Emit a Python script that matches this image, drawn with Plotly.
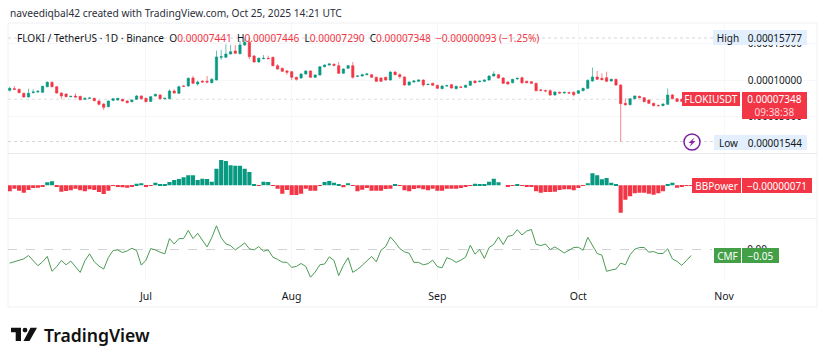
import pandas as pd
import plotly.graph_objects as go

W, H = 825, 361
START_DATE = "2025-06-02"
PRICE_UNIT = 1e-5
BB_UNIT = 1e-6

opens = [8.58,8.81,8.72,8.17,7.66,8.26,8.35,8.30,9.08,9.68,9.08,8.21,8.07,7.71,7.80,7.75,7.34,7.48,7.48,7.11,6.70,6.33,7.20,7.25,7.34,7.11,7.02,7.34,7.80,7.48,
7.06,7.80,7.94,7.43,7.43,8.49,8.17,9.17,9.17,10.28,9.45,9.82,9.82,9.63,10.00,13.12,13.12,13.58,13.99,13.62,14.82,15.18,13.30,12.48,12.94,12.98,13.12,11.97,11.61,11.24,
11.15,10.37,10.28,10.83,11.24,10.37,10.69,11.83,12.06,12.16,11.97,10.92,11.61,11.97,10.50,10.55,10.73,10.73,10.37,10.28,10.37,10.00,11.10,10.73,10.41,9.31,9.72,9.82,10.00,9.36,
9.54,9.27,8.81,9.17,9.36,8.81,9.04,8.99,9.27,9.86,9.77,9.82,10.00,10.55,10.73,10.28,9.72,9.63,10.14,10.32,9.82,9.77,9.54,8.62,8.53,8.53,7.94,8.30,8.21,8.26,
8.30,8.17,8.53,8.85,9.86,10.41,10.23,10.32,9.86,10.09,9.31,6.79,6.61,7.43,7.75,7.57,7.25,6.79,6.51,6.47,6.65,7.94,7.43,7.34,7.12,7.441]
closes = [8.85,8.72,8.26,7.66,8.17,8.35,8.44,9.13,9.68,9.08,8.21,7.80,7.71,7.75,7.66,7.29,7.48,7.52,7.16,6.65,6.24,7.11,7.43,7.48,7.11,6.88,7.25,7.80,7.43,7.02,
7.71,8.03,7.43,7.48,8.49,8.21,9.08,9.13,10.23,9.54,9.72,9.72,9.72,10.09,13.17,13.21,13.58,13.90,13.67,14.82,15.18,13.21,12.48,12.98,12.98,12.94,11.97,11.51,11.19,11.06,
10.37,10.09,10.83,11.24,10.37,10.69,11.83,12.06,12.20,12.02,10.92,11.51,11.97,10.37,10.55,10.73,10.83,10.37,9.82,9.82,10.00,11.10,10.73,10.46,9.31,9.72,9.86,10.00,9.31,9.40,
9.27,8.85,9.17,9.22,8.90,9.13,8.99,9.27,9.82,9.63,9.82,10.00,10.55,10.83,10.28,9.54,9.45,10.09,10.23,9.63,9.63,9.54,8.53,8.58,8.49,7.94,8.35,8.21,8.30,8.21,
7.98,8.53,8.85,9.95,10.41,10.09,10.05,9.82,10.09,9.31,6.74,6.61,7.43,7.80,7.57,7.02,6.79,6.47,6.47,6.70,7.94,7.43,7.06,7.06,7.44,7.348]
highs = [9.08,9.17,8.81,8.26,8.81,8.72,8.62,9.22,9.82,9.82,9.17,8.30,8.17,7.84,8.17,7.84,7.57,7.61,7.57,7.20,6.79,7.16,7.52,7.52,7.43,7.20,7.34,7.94,7.89,7.57,
7.80,8.12,8.03,7.57,8.72,8.72,9.22,9.27,10.37,10.55,9.91,10.00,10.55,10.28,14.04,14.13,14.91,14.82,14.82,15.41,15.73,15.777,13.44,13.12,13.44,13.35,13.21,12.20,11.70,11.38,
11.24,10.46,10.92,11.33,11.33,10.78,11.93,12.16,12.34,12.29,12.48,11.61,12.06,12.48,10.64,10.87,10.96,10.83,10.46,10.37,10.46,11.19,11.19,10.92,10.50,9.82,10.00,10.09,10.09,9.50,
9.63,9.36,9.27,9.36,9.45,9.22,9.17,9.36,9.91,9.95,9.95,10.09,10.64,11.19,10.83,10.37,9.82,10.18,10.32,10.46,9.91,9.86,9.63,8.76,8.67,8.72,8.44,8.44,8.39,8.39,
8.44,8.62,8.94,10.09,11.70,11.24,10.92,11.15,10.18,10.18,9.40,7.48,7.52,7.89,7.84,7.66,7.34,6.88,6.61,6.79,8.85,8.07,7.52,7.43,7.60,7.446]
lows = [8.39,8.62,8.17,7.57,7.61,8.17,8.26,8.21,8.99,8.99,8.12,7.39,7.61,7.61,7.57,7.20,7.25,7.39,7.06,6.51,5.87,6.24,7.11,7.16,7.02,6.79,6.93,7.25,7.34,6.93,
6.97,7.71,7.34,7.34,7.34,8.12,8.07,9.08,9.08,9.45,9.22,9.63,9.54,9.54,9.95,12.75,13.03,13.49,13.58,13.53,14.72,12.84,12.39,12.39,12.84,12.84,11.88,11.42,11.10,10.73,
10.00,9.91,10.18,10.73,10.28,10.28,10.60,11.74,11.97,11.88,10.83,10.83,11.51,10.18,10.41,10.46,10.64,10.28,9.72,9.72,9.91,9.91,10.64,10.18,9.22,9.22,9.63,9.72,9.08,9.31,
9.17,8.76,8.72,9.08,8.81,8.72,8.90,8.90,9.17,9.54,9.68,9.72,9.91,10.46,10.18,9.45,9.36,9.54,10.05,9.45,9.54,9.45,8.44,8.44,8.30,7.84,7.84,8.12,8.12,8.07,
7.75,8.07,8.44,8.76,9.77,10.00,9.95,9.72,9.77,9.22,1.544,6.42,6.51,7.34,7.48,6.93,6.70,6.38,6.38,6.38,6.56,7.34,6.97,6.97,7.05,7.29]
bbpower = [-18,-10,-16,-22,-14,-8,-7,-3,9,12,-4,-19,-17,-15,-10,-15,-18,-12,-14,-20,-26,-16,-2,-3,-6,-7,-3,5,6,-3,
-1,8,3,1,10,16,19,24,30,30,16,20,19,11,50,76,73,60,59,59,50,40,3,-1,11,10,-1,-10,-25,-14,
-29,-29,-25,-10,-16,-16,-1,10,13,8,2,-6,6,-1,-18,-13,-8,-16,-16,-16,-11,-10,3,-2,-15,-18,-11,-9,-12,-15,
-10,-16,-16,-10,-10,-10,-8,-5,-1,5,4,4,11,20,9,0,-5,-1,3,-1,-4,-5,-18,-22,-20,-20,
-19,-14,-12,-12,-15,-8,-1,6,36,30,18,22,8,1,-82,-43,-33,-24,-22,-22,-25,-28,-24,-18,4,8,-7,-3,-1,-0.71]
cmf = [-0.114,-0.103,-0.092,-0.078,-0.05,-0.092,-0.136,-0.103,-0.058,-0.183,-0.144,-0.092,-0.128,-0.097,-0.144,-0.192,-0.094,-0.036,-0.103,-0.139,-0.164,-0.067,-0.008,-0.003,-0.025,-0.011,0.011,-0.008,-0.131,-0.089,
0.008,-0.003,-0.022,-0.036,0.092,0.047,0.092,0.092,0.161,0.092,0.136,0.078,0.022,0.1,0.2,0.1,0.047,0.033,-0.003,0.025,0.056,0.006,-0.003,0.025,-0.014,-0.003,-0.064,-0.083,-0.106,-0.108,
-0.15,-0.142,-0.117,-0.142,-0.233,-0.189,-0.128,-0.122,-0.061,-0.092,-0.219,-0.133,-0.069,-0.192,-0.167,-0.133,-0.094,-0.058,-0.103,-0.006,0.025,0.106,0.061,0.008,-0.019,-0.031,-0.108,-0.108,-0.128,-0.119,
-0.089,-0.144,-0.153,-0.069,-0.083,-0.108,-0.089,-0.064,0.036,-0.039,0,-0.075,0.017,0.044,0.106,0.042,0.111,0.119,0.167,0.122,0.156,0.169,0.044,0.033,0.047,0,
0.022,-0.006,-0.028,-0.006,0.017,0.019,-0.006,0.103,0.033,-0.033,-0.047,-0.183,-0.172,-0.164,-0.114,-0.128,-0.044,0.003,0.017,0.017,-0.022,-0.017,-0.033,-0.033,0.006,-0.078,-0.1,-0.133,-0.092,-0.05]

month_ticks = ["2025-07-01", "2025-08-01", "2025-09-01", "2025-10-01", "2025-11-01"]
month_labels = ["Jul", "Aug", "Sep", "Oct", "Nov"]
price_ticks = [5e-5, 10e-5, 15e-5]
last_price = 7.348e-5
high_price = 15.777e-5
low_price = 1.544e-5

UP, DOWN = "#089981", "#f23645"
TEXT = "#131722"
FONT = "Noto Sans, sans-serif"
GRID = "#f6f7f8"

dates = pd.date_range(START_DATE, periods=len(closes))
scale = lambda seq, unit: [v * unit for v in seq]

fx = lambda x: x / W
fy = lambda y: 1 - y / H
P = lambda x, y: f"{fx(x):.5f} {fy(y):.5f}"
poly = lambda pts: "M" + " L".join(P(*p) for p in pts) + " Z"

fig = go.Figure()
fig.add_trace(go.Candlestick(
    x=dates, open=scale(opens, PRICE_UNIT), high=scale(highs, PRICE_UNIT),
    low=scale(lows, PRICE_UNIT), close=scale(closes, PRICE_UNIT),
    increasing=dict(line=dict(color=UP, width=0.6), fillcolor=UP),
    decreasing=dict(line=dict(color=DOWN, width=0.6), fillcolor=DOWN),
    whiskerwidth=0, yaxis="y", xaxis="x", showlegend=False))
fig.add_trace(go.Bar(
    x=dates, y=scale(bbpower, BB_UNIT),
    marker=dict(color=[UP if v >= 0 else DOWN for v in bbpower], line_width=0),
    yaxis="y2", xaxis="x", showlegend=False))
fig.add_trace(go.Scatter(
    x=dates, y=cmf, mode="lines", line=dict(color="#4c9a55", width=1),
    yaxis="y3", xaxis="x", showlegend=False))

shapes = [
    dict(type="rect", xref="paper", yref="paper", x0=fx(8), x1=fx(817), y0=fy(307), y1=fy(23),
         line=dict(color="#eff0f3", width=1), layer="below"),
    dict(type="line", xref="paper", yref="paper", x0=fx(8), x1=fx(817), y0=fy(153.5), y1=fy(153.5),
         line=dict(color="#e6e8ec", width=1), layer="below"),
    dict(type="line", xref="paper", yref="paper", x0=fx(8), x1=fx(817), y0=fy(218.5), y1=fy(218.5),
         line=dict(color="#eff0f3", width=1), layer="below"),
    dict(type="line", xref="paper", yref="y", x0=fx(8), x1=fx(713), y0=high_price, y1=high_price,
         line=dict(color="#d4d6da", width=1, dash="dot"), layer="below"),
    dict(type="line", xref="paper", yref="y", x0=fx(8), x1=fx(713), y0=low_price, y1=low_price,
         line=dict(color="#d4d6da", width=1, dash="dot"), layer="below"),
    dict(type="line", xref="paper", yref="y", x0=fx(8), x1=fx(690), y0=last_price, y1=last_price,
         line=dict(color="#dcdee2", width=1, dash="dot"), layer="below"),
    dict(type="line", xref="paper", yref="y3", x0=fx(8), x1=fx(712), y0=0, y1=0,
         line=dict(color="#cfd1d5", width=1, dash="dash"), layer="below"),
    # lightning badge
    dict(type="circle", xref="paper", yref="paper", x0=fx(684), x1=fx(700), y0=fy(150), y1=fy(134),
         line=dict(color="#7b1fa2", width=1.5), fillcolor="white"),
    dict(type="path", xref="paper", yref="paper", line=dict(width=0), fillcolor="#8e24aa",
         path=poly([(694.5, 137.5), (688.5, 143), (691.5, 143), (689.5, 147), (695.5, 141), (692.5, 141)])),
    # TradingView logo
    dict(type="path", xref="paper", yref="paper", line=dict(width=0), fillcolor="#111",
         path=poly([(11, 327.7), (21, 327.7), (21, 341), (15.7, 341), (15.7, 332.3), (11, 332.3)])),
    dict(type="circle", xref="paper", yref="paper", x0=fx(22.6), x1=fx(27.4), y0=fy(332.5), y1=fy(327.7),
         line=dict(width=0), fillcolor="#111"),
    dict(type="path", xref="paper", yref="paper", line=dict(width=0), fillcolor="#111",
         path=poly([(30.5, 327.7), (37, 327.7), (29.5, 341), (23.5, 341)])),
]


def text(x, y, s, size=10, color=TEXT, anchor="left", weight=None):
    return dict(xref="paper", yref="paper", x=fx(x), y=fy(y), text=s, showarrow=False,
                xanchor=anchor, yanchor="middle", borderpad=0,
                font=dict(family=FONT, size=size, color=color, weight=weight))


def box(x0, x1, y0, y1, s, bg, color="white", size=10):
    return dict(xref="paper", yref="paper", x=fx(x0), y=fy(y0), text=s, showarrow=False,
                xanchor="left", yanchor="top", width=x1 - x0, height=y1 - y0,
                bgcolor=bg, borderpad=0, borderwidth=0, align="center", valign="middle",
                font=dict(family=FONT, size=size, color=color))


red = lambda s: f'<span style="color:{DOWN}">{s}</span>'
legend = ("FLOKI / TetherUS · 1D · Binance  O" + red("0.00007441") + "  H" + red("0.00007446")
          + "  L" + red("0.00007290") + "  C" + red("0.00007348") + "  "
          + red("−0.00000093 (−1.25%)"))
LB = "#e3effd"
annotations = [
    text(9, 13.5, "naveediqbal42 created with TradingView.com, Oct 25, 2025 14:21 UTC", size=10.2, color="#2a2e39"),
    text(16, 37.5, legend, size=10.1),
    box(713, 743, 30, 45, "High", LB, TEXT),
    box(743, 807, 30, 45, "0.00015777", LB, TEXT),
    box(714, 743, 135, 150, "Low", LB, TEXT),
    box(743, 807, 135, 150, "0.00001544", LB, TEXT),
    box(682, 740, 92, 106, "FLOKIUSDT", DOWN),
    box(742, 807, 92, 119, '0.00007348<br><span style="color:#ffd5da">09:38:38</span>', DOWN),
    box(692, 741, 178, 193, "BBPower", DOWN),
    box(742, 812, 178, 193, "−0.00000071", DOWN),
    box(714, 741, 248, 263, "CMF", "#43a047"),
    box(742, 779, 248, 263, "−0.05", "#43a047"),
    text(43, 335, "TradingView", size=17.6, color="#111", weight=600),
]

layout_y = dict(side="right", anchor="x", showline=False, zeroline=False, fixedrange=True)
fig.update_layout(
    width=W, height=H, margin=dict(l=0, r=0, t=0, b=0), autosize=False,
    paper_bgcolor="white", plot_bgcolor="white", showlegend=False,
    font=dict(family=FONT, color=TEXT), bargap=0.12,
    shapes=shapes, annotations=annotations,
    xaxis=dict(domain=[fx(8), fx(817)], range=["2025-06-01 15:21", "2025-11-20 18:29"],
               type="date", anchor="y3", tickmode="array", tickvals=month_ticks, ticktext=month_labels,
               tickfont=dict(size=10.5, color=TEXT), ticks="outside", ticklen=6,
               tickcolor="rgba(0,0,0,0)", showgrid=True, gridcolor=GRID, gridwidth=1,
               rangeslider=dict(visible=False), showline=False, zeroline=False),
    yaxis=dict(domain=[fy(153), fy(23)], range=[-0.04e-5, 17.84e-5], tickmode="array",
               tickvals=price_ticks, tickformat=".8f", ticklabelposition="inside",
               ticklabelstandoff=12, tickfont=dict(size=10, color=TEXT),
               showgrid=True, gridcolor=GRID, **layout_y),
    yaxis2=dict(domain=[fy(218.3), fy(154)], range=[-99e-6, 93.9e-6], showticklabels=False,
                showgrid=False, **layout_y),
    yaxis3=dict(domain=[fy(280), fy(218.5)], range=[-0.256, 0.261], tickmode="array", tickvals=[0],
                ticktext=["0.00"], ticklabelposition="inside", ticklabelstandoff=47,
                tickfont=dict(size=10, color=TEXT), showgrid=False, **layout_y),
)
fig.write_html("out.html", config=dict(displayModeBar=False),
               post_script="document.body.style.margin='0';")
